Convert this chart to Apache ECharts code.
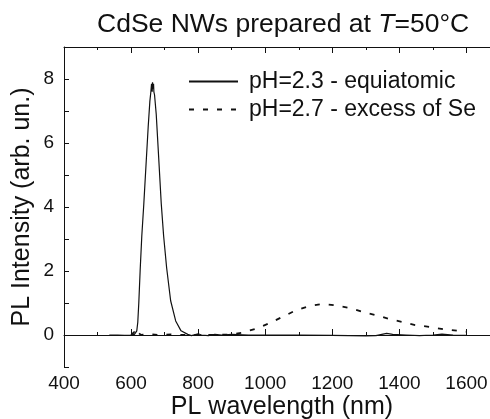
<!DOCTYPE html>
<html>
<head>
<meta charset="utf-8">
<script src="https://cdn.jsdelivr.net/npm/echarts@6/dist/echarts.min.js"></script>
<style>
  html, body { margin: 0; padding: 0; background: #fff; }
  #chart { width: 490px; height: 419px; }
</style>
</head>
<body>
<div id="chart"></div>
<script>
// pH=2.3 - equiatomic (solid)
const wlEqui = [535, 560, 580, 600, 610, 617, 620, 623, 627, 632, 638, 645, 651, 656, 659, 661, 663, 664, 665, 667, 668, 670, 675, 682, 690, 697, 706, 718, 733, 749, 769, 780, 800, 810, 830, 850, 870, 900, 950, 1000, 1100, 1200, 1300, 1330, 1362, 1380, 1420, 1460, 1500, 1527, 1560, 1600]
const plEqui = [0, 0, -0.01, 0, 0.02, 0.13, 0.4, 1.0, 2.0, 3.1, 4.1, 5.4, 6.5, 7.3, 7.6, 7.85, 7.6, 7.9, 7.7, 7.85, 7.6, 7.5, 6.9, 5.6, 4.1, 3.1, 2.1, 1.07, 0.44, 0.13, 0.02, -0.02, 0.04, 0, -0.02, 0.02, 0, 0.02, 0, 0, 0, -0.01, -0.03, -0.02, 0.05, 0.02, 0, -0.02, 0, 0.03, 0, -0.01]

// pH=2.7 - excess of Se (dashed)
const wlSe = [600, 605, 610, 615, 620, 630, 650, 680, 720, 760, 800, 850, 900, 929, 974, 1013, 1058, 1093, 1133, 1173, 1213, 1258, 1298, 1338, 1372, 1408, 1447, 1492, 1532, 1577, 1600]
const plSe = [0, -0.05, 0.1, -0.02, 0.08, 0, 0.03, 0, 0.02, 0, 0, 0, 0.02, 0.07, 0.2, 0.37, 0.6, 0.78, 0.91, 0.97, 0.92, 0.83, 0.7, 0.6, 0.49, 0.41, 0.31, 0.25, 0.18, 0.13, 0.1]

const seriesNames = ['pH=2.3 - equiatomic', 'pH=2.7 - excess of Se']

const font = 'Liberation Sans, Arial, Helvetica, sans-serif'

const chart = echarts.init(document.getElementById('chart'))

const toPairs = (xs, ys) => xs.map((x, i) => [x, ys[i]])

const option = {
  animation: false,
  backgroundColor: '#fff',
  title: {
    text: '{a|CdSe NWs prepared at }{i|T}{a|=50°C}',
    left: 92,
    top: 6,
    textStyle: {
      rich: {
        a: { fontFamily: font, fontSize: 26.5, fontWeight: 'normal', color: '#111' },
        i: { fontFamily: font, fontSize: 26.5, fontWeight: 'normal', color: '#111', fontStyle: 'italic' }
      }
    }
  },
  legend: {
    orient: 'vertical',
    left: 188,
    top: 70,
    padding: 0,
    itemWidth: 49,
    itemHeight: 14,
    itemGap: 5,
    // hide the symbol dot, keep the line sample
    itemStyle: { opacity: 0 },
    data: seriesNames,
    textStyle: { fontFamily: font, fontSize: 23, color: '#111', padding: [0, 0, 0, 6] }
  },
  grid: {
    left: 64,
    right: -10,
    top: 47,
    bottom: 52,
    outerBoundsMode: 'none'
  },
  xAxis: [
    {
      type: 'value',
      min: 400,
      max: 1700,
      interval: 200,
      name: 'PL wavelength (nm)',
      nameLocation: 'middle',
      nameGap: 28,
      nameMoveOverlap: false,
      nameTextStyle: { fontFamily: font, fontSize: 25, color: '#111' },
      axisLine: { lineStyle: { color: '#111', width: 1 } },
      axisTick: { inside: true, length: 6, lineStyle: { color: '#111' } },
      minorTick: { show: true, splitNumber: 2, length: 3, lineStyle: { color: '#111' } },
      splitLine: { show: false },
      axisLabel: {
        fontFamily: font,
        fontSize: 19,
        color: '#111',
        margin: 7,
        showMaxLabel: false,
        formatter: (v) => String(v)
      }
    },
    {
      type: 'value',
      position: 'top',
      min: 400,
      max: 1700,
      interval: 200,
      axisLine: { lineStyle: { color: '#111', width: 1 } },
      axisTick: { inside: true, length: 6, lineStyle: { color: '#111' } },
      minorTick: { show: true, splitNumber: 2, length: 3, lineStyle: { color: '#111' } },
      splitLine: { show: false },
      axisLabel: { show: false }
    }
  ],
  yAxis: {
    type: 'value',
    min: -1,
    max: 9,
    interval: 1,
    name: 'PL Intensity (arb. un.)',
    nameLocation: 'middle',
    nameGap: 29,
    nameMoveOverlap: false,
    nameTextStyle: { fontFamily: font, fontSize: 25, color: '#111' },
    axisLine: { show: true, lineStyle: { color: '#111', width: 1 } },
    axisTick: { show: true, inside: true, length: 5, lineStyle: { color: '#111' } },
    splitLine: { show: false },
    axisLabel: {
      fontFamily: font,
      fontSize: 19,
      color: '#111',
      margin: 10,
      formatter: (v) => (v >= 0 && v <= 8 && v % 2 === 0 ? String(v) : '')
    }
  },
  series: [
    {
      name: seriesNames[0],
      type: 'line',
      data: toPairs(wlEqui, plEqui),
      showSymbol: false,
      symbol: 'none',
      lineStyle: { color: '#111', width: 1.2, type: 'solid' },
      itemStyle: { color: '#111' }
    },
    {
      name: seriesNames[1],
      type: 'line',
      data: toPairs(wlSe, plSe),
      showSymbol: false,
      symbol: 'none',
      lineStyle: { color: '#111', width: 1.8, type: [5, 9] },
      itemStyle: { color: '#111' }
    }
  ]
}

chart.setOption(option)
</script>
</body>
</html>
